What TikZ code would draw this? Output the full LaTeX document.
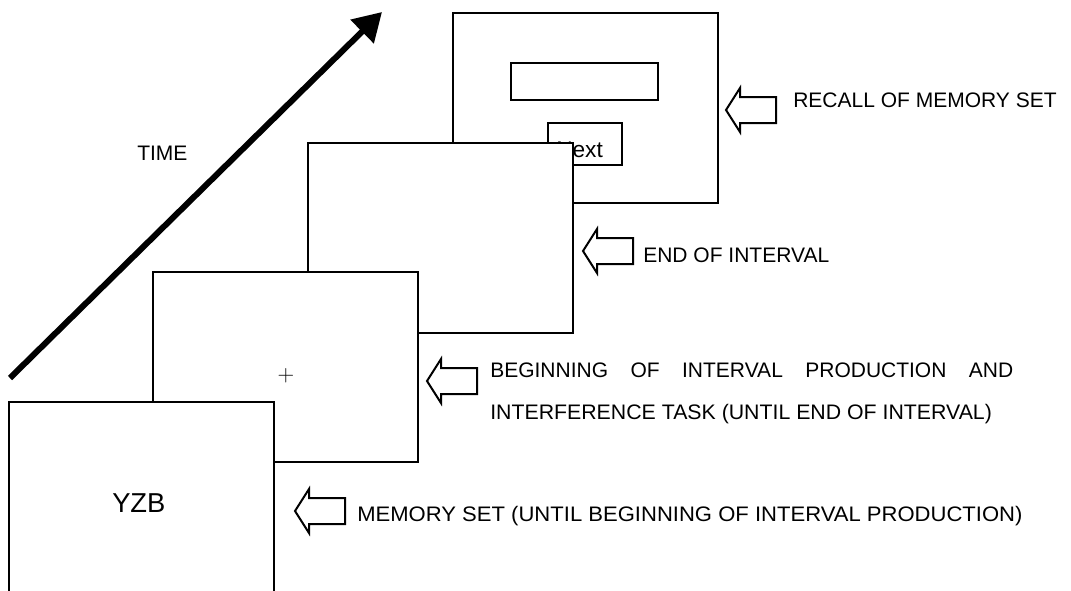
\documentclass[tikz,border=0pt]{standalone}
\usepackage{fontspec}
\usepackage{graphicx}
\setmainfont{Liberation Sans}
\usetikzlibrary{arrows.meta}
\begin{document}
\begin{tikzpicture}[x=0.75pt,y=-0.75pt,
  screen/.style={draw, fill=white, line width=1.5pt, minimum width=198.75pt, minimum height=142.5pt, inner sep=0pt, anchor=north west},
  box/.style={draw, line width=1.4pt, inner sep=0pt, anchor=north west},
  label/.style={inner sep=0pt, anchor=base west, font=\fontsize{15.75}{19}\selectfont},
  hollowarrow/.pic={\draw[line width=1.5pt, line join=miter] (0,0) -- (14,-22) -- (14,-13) -- (50,-13) -- (50,13) -- (14,13) -- (14,22) -- cycle;}
]
\useasboundingbox (0,0) rectangle (1071,590);
\clip (0,0) rectangle (1071,590);

% time arrow
\coordinate (t0) at (10,378);
\coordinate (t1) at (382,12);
\draw[line width=4.5pt, -{Triangle[length=21pt,width=24pt]}] (t0) -- (t1);
\node[label] (time) at (137,160) {TIME};

% screen 4 : recall
\node[screen] (s4) at (452,12) {};
\node[box, minimum width=110.25pt, minimum height=27.75pt] (field) at (510,62) {};
\node[box, fill=white, minimum width=55.5pt, minimum height=31.5pt] (nextbox) at (547,122) {};
\node[inner sep=0pt, anchor=base west, font=\fontsize{17}{20}\selectfont] (nexttxt) at (556,157) {Next};

% screen 3 : end of interval
\node[screen] (s3) at (307,142) {};

% screen 2 : fixation
\node[screen] (s2) at (152,271) {};
\node[inner sep=0pt, font=\fontsize{18}{20}\selectfont] (cross) at (286,376) {$+$};

% screen 1 : memory set
\node[screen, minimum height=150pt] (s1) at (8,401) {};
\node[inner sep=0pt, anchor=base west, font=\fontsize{20.5}{24}\selectfont] (yzb) at (112,512) {YZB};

% hollow arrows and labels
\pic at (726,110) {hollowarrow};
\node[label] (l4) at (793,107) {RECALL OF MEMORY SET};

\pic at (583,251) {hollowarrow};
\node[label] (l3) at (643,262) {END OF INTERVAL};

\pic at (427,381) {hollowarrow};
\node[label] (l2a) at (490,377) {\makebox[392.25pt][s]{BEGINNING OF INTERVAL PRODUCTION AND}};
\node[label] (l2b) at (490,419) {\scalebox{1.014}[1]{INTERFERENCE TASK (UNTIL END OF INTERVAL)}};

\pic at (295,511) {hollowarrow};
\node[label] (l1) at (357,521) {\scalebox{1.05}[1]{MEMORY SET (UNTIL BEGINNING OF INTERVAL PRODUCTION)}};
\end{tikzpicture}
\end{document}
